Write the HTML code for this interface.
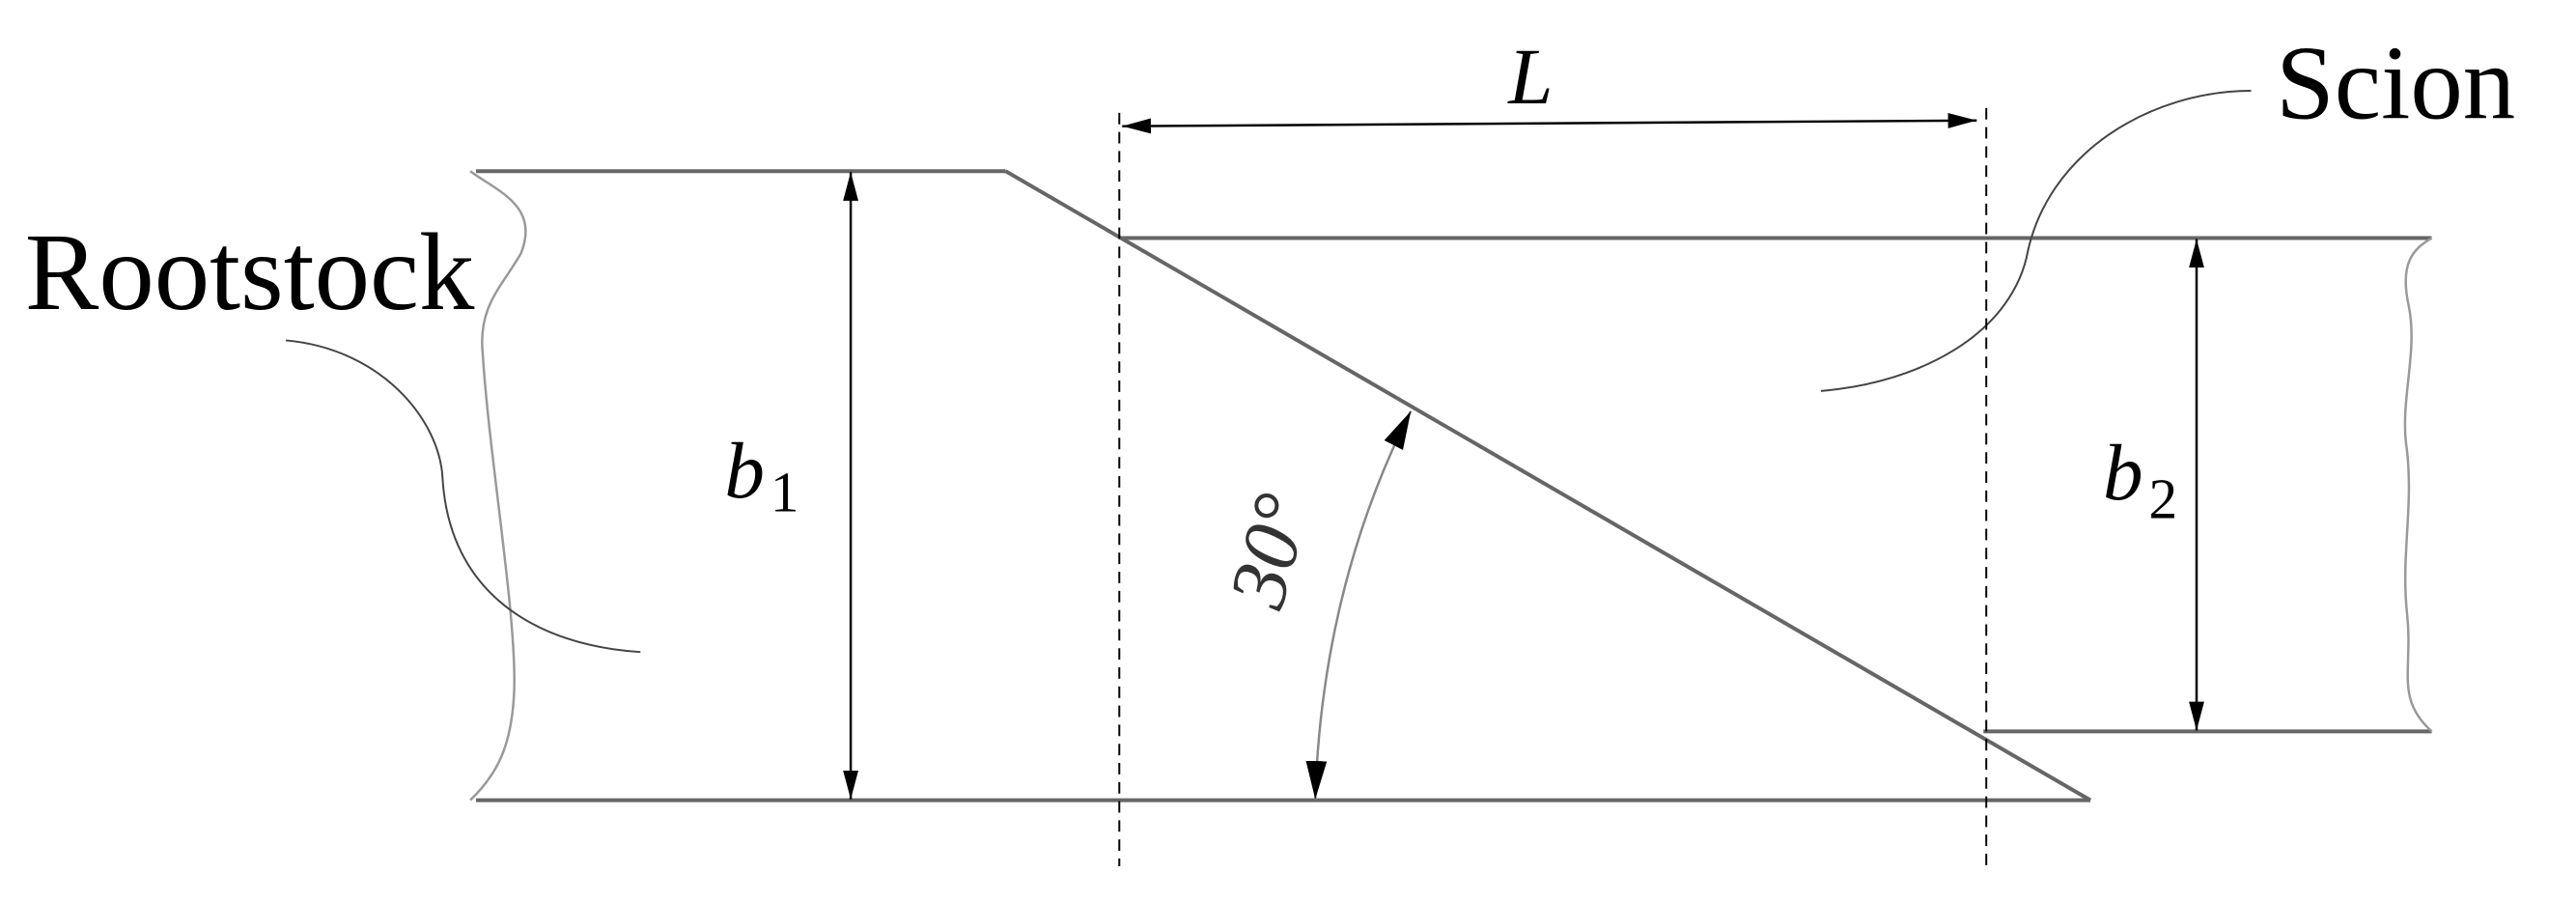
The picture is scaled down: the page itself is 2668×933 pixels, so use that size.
<!DOCTYPE html>
<html><head><style>html,body{margin:0;padding:0;background:#fff}</style></head><body>
<svg width="2668" height="928" viewBox="0 0 2668 928" xmlns="http://www.w3.org/2000/svg">
<defs>
<marker id="a" viewBox="0 0 30 16" refX="30" refY="8" markerWidth="30" markerHeight="16" markerUnits="userSpaceOnUse" orient="auto-start-reverse"><path d="M0,0 L30,8 L0,16 Z" fill="#000"/></marker>
<marker id="b" viewBox="0 0 40 22" refX="40" refY="11" markerWidth="40" markerHeight="22" markerUnits="userSpaceOnUse" orient="auto-start-reverse"><path d="M0,0 L40,11 L0,22 Z" fill="#000"/></marker>
</defs>
<g transform="scale(0.99)">
<g stroke="#666" stroke-width="4" fill="none">
<line x1="498" y1="179" x2="1052" y2="179"/>
<line x1="498" y1="837" x2="2187" y2="837"/>
<line x1="1052" y1="179" x2="2187" y2="837"/>
<line x1="1174" y1="249" x2="2544" y2="249"/>
<line x1="2075" y1="765" x2="2544" y2="765"/>
</g>
<g stroke="#999" stroke-width="2.5" fill="none">
<path d="M492,179 C520,200 565,215 545,265 C525,300 500,320 505,370 C512,480 540,640 538,720 C536,780 520,810 492,837"/>
<path d="M2544,249 C2525,260 2510,275 2520,320 C2530,370 2510,420 2518,470 C2525,530 2512,580 2518,640 C2525,700 2505,730 2544,765"/>
</g>
<g stroke="#444" stroke-width="2" fill="none">
<path d="M299,356 C400,365 460,440 463,500 C470,620 560,675 670,682"/>
<path d="M2355,95 C2250,95 2140,160 2120,270 C2100,350 2010,400 1905,409"/>
</g>
<g stroke="#000" stroke-width="2" stroke-dasharray="12,8">
<line x1="1171" y1="118" x2="1171" y2="906"/>
<line x1="2078" y1="113" x2="2078" y2="911"/>
</g>
<g stroke="#000" stroke-width="2.5" fill="none">
<line x1="1174" y1="132" x2="2068" y2="126" marker-start="url(#a)" marker-end="url(#a)"/>
<line x1="890" y1="180" x2="890" y2="836" marker-start="url(#a)" marker-end="url(#a)"/>
<line x1="2298" y1="250" x2="2298" y2="764" marker-start="url(#a)" marker-end="url(#a)"/>
</g>
<path d="M1476,430 C1410,560 1380,700 1376,836" stroke="#888" stroke-width="2.5" fill="none" marker-start="url(#b)" marker-end="url(#b)"/>
<g font-family="Liberation Serif, serif" fill="#000">
<text x="26" y="323" font-size="116">Rootstock</text>
<text x="2381" y="124" font-size="110">Scion</text>
<text x="1578" y="108" font-size="84" font-style="italic">L</text>
<text x="758" y="520" font-size="84" font-style="italic">b</text><text x="806" y="535" font-size="60">1</text>
<text x="2200" y="522" font-size="84" font-style="italic">b</text><text x="2248" y="542" font-size="60">2</text>
<text x="0" y="0" font-size="84" font-style="italic" fill="#333" transform="translate(1340,640) rotate(-75)">30°</text>
</g>
</g>
</svg>
</body></html>
